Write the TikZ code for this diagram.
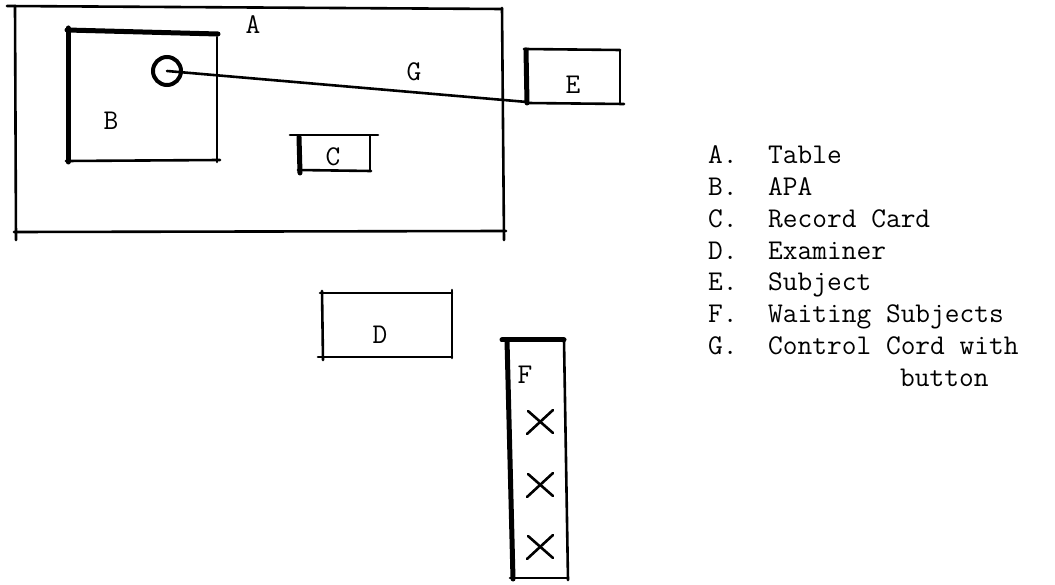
\documentclass[tikz,border=0pt]{standalone}
\begin{document}
\begin{tikzpicture}[x=1pt, y=-1pt, line cap=round,
    edge/.style={line width=2.6pt},
    heavy/.style={line width=5pt},
    light/.style={line width=1.6pt},
    tw/.style={font=\ttfamily\fontsize{28.6}{32}\selectfont, inner sep=0pt}]

    \def\row{31.7}

    \useasboundingbox (0,0) rectangle (1055,585);

    % table
    \draw[edge] (7,6) -- (502,9);
    \draw[edge] (15,6) -- (16,240);
    \draw[edge] (502,8) -- (504,240);
    \draw[edge] (14,232) -- (506,231);
    \node[tw] (A) at (253,25) {A};

    % apa
    \draw[heavy] (67,30) -- (218,34);
    \draw[heavy] (68,28) -- (68,162);
    \draw[edge] (217,37) -- (217,162);
    \draw[edge] (66,161) -- (220,160);
    \node[tw] (B) at (111,121) {B};

    % button and cord
    \node[draw, circle, line width=4pt, minimum size=28pt, inner sep=0pt]
        (button) at (167,71) {};
    \coordinate (plug) at (527,102);
    \draw[edge] (button.center) -- (plug);
    \node[tw] (G) at (414,72) {G};

    % subject
    \draw[heavy] (526,50) -- (527,103);
    \draw[edge] (524,49) -- (620,50);
    \draw[light] (620,50) -- (620,103);
    \draw[edge] (527,103) -- (624,104);
    \node[tw] (E) at (573,85) {E};

    % record card
    \draw[edge] (290,135) -- (378,135);
    \draw[heavy] (299,137) -- (300,173);
    \draw[edge] (370,136) -- (370,170);
    \draw[edge] (298,170) -- (371,171);
    \node[tw] (C) at (333,157) {C};

    % examiner
    \draw[edge] (320,293) -- (452,293);
    \draw[edge] (322,291) -- (323,360);
    \draw[edge] (452,290) -- (452,358);
    \draw[edge] (318,357) -- (452,357);
    \node[tw] (D) at (380,335) {D};

    % waiting subjects
    \draw[heavy] (502,340) -- (564,340);
    \draw[heavy] (507,340) -- (513,579);
    \draw[edge] (564,340) -- (568,580);
    \draw[edge] (510,578) -- (568,578);
    \node[tw] (F) at (525,375) {F};
    \foreach \y in {422,485,547}{
        \draw[edge] (527,\y+12) -- (553,\y-12);
        \draw[edge] (528,\y-11) -- (553,\y+11);
    }

    % legend
    \foreach \k/\txt [count=\i] in {
        A/Table,
        B/APA,
        C/Record Card,
        D/Examiner,
        E/Subject,
        F/Waiting Subjects,
        G/Control Cord with
    }{
        \node[tw, anchor=base west] (key\k) at (708,164+\row*\i-\row) {\k.};
        \node[tw, anchor=base west] (txt\k) at (768,164+\row*\i-\row) {\txt};
    }
    \node[tw, anchor=base west] (txtGb) at (900,386) {button};
\end{tikzpicture}
\end{document}
